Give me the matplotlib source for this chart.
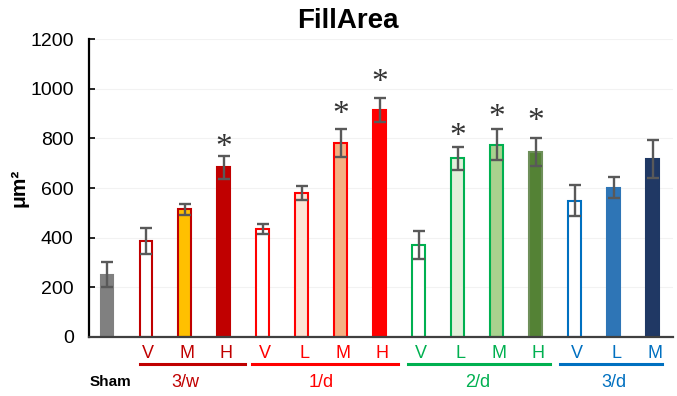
import numpy as np
import matplotlib
matplotlib.use("Agg")
import matplotlib.pyplot as plt

plt.rcParams['font.family'] = ['Liberation Sans', 'DejaVu Sans']

# bar data (Sham, 3/w V M H, 1/d V L M H, 2/d V L M H, 3/d V L M)
letters = ["", "V", "M", "H", "V", "L", "M", "H", "V", "L", "M", "H", "V", "L", "M"]
means = [250, 388, 515, 683, 435, 580, 781, 914, 370, 720, 775, 745, 549, 601, 717]
errs = [50, 52, 22, 46, 21, 28, 58, 49, 56, 46, 64, 56, 63, 43, 76]
# significance marks: bar index and height of the asterisk
star_idx = [3, 6, 7, 9, 10, 11]
star_y = [777, 910, 1037, 820, 898, 880]
fills = ["#808080",
         "white", "#FFC000", "#C00000",
         "white", "#FBE5D6", "#F4B183", "#FF0000",
         "white", "#E2EFDA", "#A9D18E", "#548235",
         "white", "#2E75B6", "#203864"]
edges = ["#808080",
         "#C00000", "#C00000", "#C00000",
         "#FF0000", "#FF0000", "#FF0000", "#FF0000",
         "#00B050", "#00B050", "#00B050", "#6E8F5A",
         "#0070C0", "#2E75B6", "#1F3864"]
groups = ["3/w", "1/d", "2/d", "3/d"]
group_idx = [(1, 3), (4, 7), (8, 11), (12, 14)]
group_colors = ["#C00000", "#FF0000", "#00B050", "#0070C0"]
line_pad = [(0.15, 0.53), (0.28, 0.46), (0.28, 0.36), (0.38, 0.23)]

x = np.arange(len(means))

fig = plt.figure(figsize=(6.77, 3.96), dpi=100)
ax = fig.add_axes([0.1315, 0.149, 0.8625, 0.7525])

ax.bar(x, means, width=0.33, color=fills, edgecolor=edges, linewidth=1.5, zorder=2)
ax.errorbar(x, means, yerr=errs, fmt="none", ecolor="#595959", elinewidth=1.7,
            capsize=4.3, capthick=1.7, zorder=3)
for i, sy in zip(star_idx, star_y):
    ax.text(x[i], sy, "*", ha="center", va="center_baseline",
            fontsize=24, color="#333333", family="Liberation Serif")

ax.set_xlim(-0.46, 14.52)
ax.set_ylim(0, 1200)
ax.set_yticks(range(0, 1201, 200))
ax.yaxis.grid(True, color="#F2F2F2", linewidth=0.8, zorder=0)
ax.set_axisbelow(True)
ax.tick_params(axis="y", direction="in", length=4, width=1.2, labelsize=14, pad=11)
ax.set_xticks([])
for s in ["top", "right"]:
    ax.spines[s].set_visible(False)
ax.spines["left"].set_linewidth(1.6)
ax.spines["bottom"].set_linewidth(1.6)
ax.spines["bottom"].set_color("#404040")

ax.set_ylabel("μm²", fontsize=15, fontweight="bold", labelpad=1)
fig.text(348 / 677, 1 - 21 / 396, "FillArea", ha="center", va="center",
         fontsize=20, fontweight="bold")

# category labels below the axis
tr = ax.get_xaxis_transform()
for g, (a, b) in enumerate(group_idx):
    for i in range(a, b + 1):
        ax.text(x[i] + 0.06, -0.055, letters[i], transform=tr, ha="center", va="center",
                fontsize=13, color=group_colors[g], clip_on=False)
    ax.plot([x[a] - line_pad[g][0], x[b] + line_pad[g][1]], [-0.09, -0.09], transform=tr,
            color=group_colors[g], linewidth=2.2, clip_on=False)
    ax.text((x[a] + x[b]) / 2, -0.152, groups[g], transform=tr, ha="center",
            va="center", fontsize=13, color=group_colors[g], clip_on=False)
ax.text(x[0] + 0.08, -0.15, "Sham", transform=tr, ha="center", va="center",
        fontsize=11, fontweight="bold", clip_on=False)

fig.savefig("out.png", dpi=100)
